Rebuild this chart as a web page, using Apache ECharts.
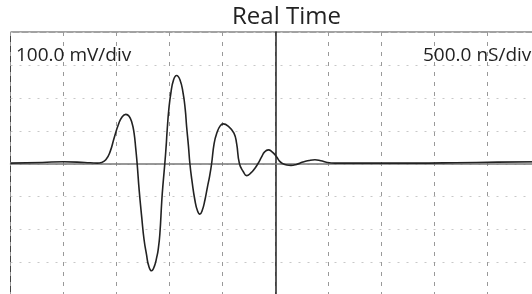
<!DOCTYPE html>
<html>
<head>
<meta charset="utf-8">
<script src="https://cdn.jsdelivr.net/npm/echarts@6/dist/echarts.min.js"></script>
<style>
html,body{margin:0;padding:0;background:#fff;overflow:hidden;width:532px;height:294px;}
#chart{width:548px;height:300px;}
</style>
</head>
<body>
<div id="chart"></div>
<script>
// time in ns, voltage in mV (500 ns/div, 100 mV/div)
const timeNs = [-2500, -2200, -2000, -1800, -1680, -1640, -1600, -1560, -1520, -1480, -1445, -1411, -1380, -1352, -1333, -1317, -1304,
  -1285, -1260, -1239, -1216, -1195, -1168, -1140, -1120, -1106, -1090, -1071, -1058, -1043,
  -1030, -1021, -1005, -986, -960, -932, -900, -870, -850, -837, -820, -806,
  -785, -759, -735, -712, -690, -664, -640, -620, -601,
  -577, -551, -520, -492, -440, -390, -365, -338,
  -300, -270, -230, -195, -164,
  -130, -100, -66, -30, 10, 40, 73,
  110, 148, 200, 260, 320, 375, 430, 490, 564, 900, 1300, 1700, 2100, 2500];
const voltsMv = [2, 4, 6, 4, 2, 4, 12, 36, 80, 120, 143, 150, 144, 123, 93, 45, 0,
  -80, -165, -230, -275, -310, -325, -310, -285, -262, -215, -110, -55, 0,
  55, 100, 165, 214, 255, 268, 255, 214, 165, 113, 55, 0,
  -55, -110, -142, -153, -142, -110, -70, -38, 0,
  62, 94, 115, 121, 113, 93, 62, 0,
  -25, -36, -28, -15, 0,
  20, 36, 42, 36, 22, 8, 0,
  -4, -5, -2, 5, 10, 12, 9, 4, 2, 2, 2, 3, 5, 6];
const titleText = 'Real Time';
const voltLabel = '100.0 mV/div';
const timeLabel = '500.0 nS/div';

const chart = echarts.init(document.getElementById('chart'));
const fontFam = '"Open Sans", sans-serif';
chart.setOption({
  animation: false,
  backgroundColor: '#fff',
  title: [
    { text: titleText, left: 232, top: 5, padding: 0, textStyle: { fontFamily: fontFam, fontSize: 24, fontWeight: 'normal', color: '#222' } },
    { text: voltLabel, left: 16, top: 46, padding: 0, textStyle: { fontFamily: fontFam, fontSize: 19, fontWeight: 'normal', color: '#222' } },
    { text: timeLabel, left: 423, top: 46, padding: 0, textStyle: { fontFamily: fontFam, fontSize: 19, fontWeight: 'normal', color: '#222' } }
  ],
  grid: { left: 10.5, top: 32, width: 529.5, height: 263.5, show: true, borderColor: '#444', borderWidth: 1, backgroundColor: 'transparent' },
  xAxis: {
    type: 'value', min: -2500, max: 2500, interval: 500,
    axisLabel: { show: false }, axisTick: { show: false },
    axisLine: { show: true, onZero: true, lineStyle: { color: '#777', width: 1.5 } },
    splitLine: { show: true, lineStyle: { color: '#999', type: [4, 6], width: 1 } }
  },
  yAxis: {
    type: 'value', min: -400, max: 400, interval: 100,
    axisLabel: { show: false }, axisTick: { show: false },
    axisLine: { show: true, onZero: true, lineStyle: { color: '#222', width: 1.5 } },
    splitLine: { show: true, lineStyle: { color: '#c8c8c8', type: [2, 7], width: 1 } }
  },
  series: [{
    type: 'line',
    data: timeNs.map((t, i) => [t, voltsMv[i]]),
    smooth: 0.5,
    symbol: 'none',
    lineStyle: { color: '#222', width: 1.6 }
  }]
});
</script>
</body>
</html>
